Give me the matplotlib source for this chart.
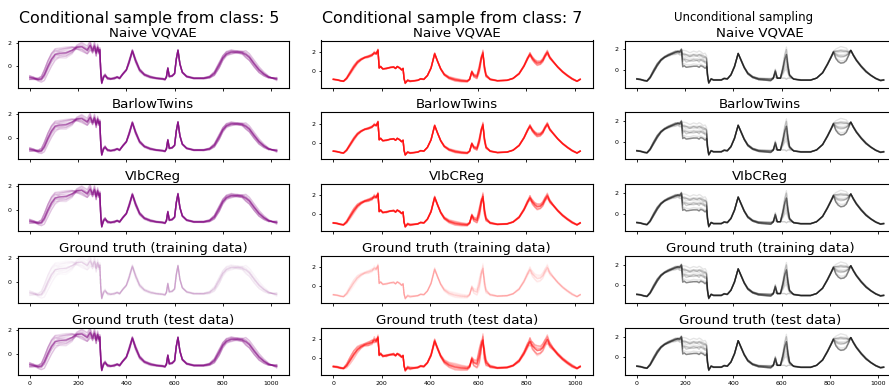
import numpy as np
import matplotlib
matplotlib.use('Agg')
import matplotlib.pyplot as plt

# ---- data ----------------------------------------------------------------
# class 5 template (key points of the waveform)
c5_x = [0, 15, 35, 48, 60, 75, 90, 105, 125, 150,
        175, 195, 215, 238, 250, 260, 268, 275, 281, 286,
        290, 294, 298, 305, 312, 322, 335, 350, 362, 372,
        385, 400, 412, 425, 438, 455, 475, 500, 525, 550,
        560, 566, 572, 578, 590, 600, 607, 614, 622, 632,
        650, 680, 720, 745, 765, 785, 800, 815, 835, 860,
        880, 895, 910, 930, 950, 970, 990, 1010, 1023]
c5_y = [-0.95, -1.0, -1.1, -1.05, -0.7, 0.0, 0.6, 1.0, 1.1, 1.15,
        1.35, 1.6, 1.65, 1.35, 1.75, 1.3, 1.7, 1.1, 1.6, 1.2,
        1.4, -0.5, -1.4, -0.9, -0.75, -1.0, -1.05, -1.0, -0.9, -1.0,
        -0.65, -0.3, 0.4, 1.3, 0.5, -0.3, -0.7, -0.9, -1.0, -1.05,
        -1.1, -0.9, -0.15, -0.85, -0.8, -0.6, 0.6, 1.35, 0.2, -0.5,
        -0.85, -1.0, -1.0, -0.9, -0.6, 0.1, 0.7, 1.05, 1.2, 1.2,
        1.15, 1.0, 0.75, 0.2, -0.3, -0.65, -0.9, -1.0, -1.05]
c5_spread_a = [0.1, 0.1, 0.05, 0.1, 0.25, 0.3, 0.35, 0.35, 0.4, 0.45,
               0.3, -0.1, -0.3, -0.2, -0.35, 0.1, -0.3, 0.2, -0.2, 0.1,
               -0.1, 0.1, 0.05, 0.1, 0.05, 0.05, 0.05, 0.05, 0.05, 0.05,
               0.05, 0.05, 0.1, 0.1, 0.1, 0.05, 0.05, 0.05, 0.05, 0.05,
               0.05, 0.05, 0.05, 0.05, 0.05, 0.05, 0.05, 0.05, 0.05, 0.05,
               0.05, 0.05, 0.05, 0.05, 0.1, 0.15, 0.2, 0.2, 0.15, 0.1,
               0.05, -0.1, -0.15, -0.15, -0.15, -0.1, -0.05, 0.05, 0.05]
c5_spread_b = [0.2, 0.1, -0.1, -0.2, -0.3, -0.35, -0.3, -0.2, 0.1, 0.2,
               0.2, 0.1, 0.1, 0.2, 0.1, 0.25, 0.1, 0.3, 0.1, 0.2,
               0.1, 0.0, 0.0, 0.0, -0.1, 0.1, 0.05, -0.05, 0.05, 0.05,
               0.0, 0.0, -0.1, 0.0, -0.1, -0.1, -0.05, -0.05, 0.0, 0.0,
               0.0, 0.0, 0.0, 0.0, 0.0, 0.0, 0.0, 0.0, 0.0, 0.0,
               0.05, 0.0, 0.05, 0.1, 0.2, 0.3, 0.2, 0.1, -0.05, 0.1,
               0.15, 0.25, 0.2, 0.2, 0.15, 0.1, 0.05, 0.0, -0.1]

# class 7 template
c7_x = [0, 15, 30, 42, 55, 70, 85, 100, 115, 130,
        145, 160, 170, 178, 185, 190, 196, 205, 220, 235,
        250, 258, 265, 275, 283, 289, 293, 298, 308, 318,
        335, 350, 362, 375, 390, 405, 420, 432, 445, 460,
        480, 505, 530, 555, 565, 574, 582, 595, 605, 613,
        620, 626, 633, 650, 680, 720, 745, 770, 790, 805,
        815, 825, 835, 845, 858, 868, 878, 887, 897, 910,
        930, 950, 970, 990, 1010, 1023]
c7_y = [-0.9, -0.95, -1.05, -1.1, -0.8, -0.2, 0.4, 0.9, 1.2, 1.4,
        1.5, 1.65, 1.9, 1.8, 2.2, 0.3, 0.45, 0.2, 0.25, 0.35,
        0.4, 0.25, 0.45, 0.3, 0.1, 0.25, -0.8, -1.3, -1.0, -1.1,
        -1.05, -1.0, -0.85, -0.9, -0.5, 0.3, 1.8, 1.0, 0.2, -0.4,
        -0.75, -0.95, -1.05, -1.1, -0.9, -0.1, -0.5, -0.65, 0.2, 1.3,
        1.9, 0.4, -0.5, -0.9, -1.05, -1.0, -0.8, -0.3, 0.5, 1.3,
        1.75, 1.3, 1.0, 0.8, 0.85, 1.1, 1.6, 1.95, 1.4, 1.0,
        0.4, -0.1, -0.5, -0.85, -1.1, -0.9]
c7_spread_a = [0.05, 0.05, 0.05, 0.05, 0.1, 0.15, 0.2, 0.2, 0.15, 0.1,
               0.1, 0.2, -0.1, 0.15, -0.1, 0.05, 0.05, 0.05, 0.05, 0.05,
               0.05, 0.05, 0.05, 0.05, 0.05, 0.05, 0.05, 0.05, 0.1, 0.1,
               0.05, 0.05, 0.05, 0.05, 0.05, 0.1, 0.1, 0.1, 0.1, 0.15,
               0.2, 0.25, 0.2, 0.15, 0.1, 0.1, 0.2, 0.2, 0.2, 0.3,
               0.1, 0.2, 0.1, 0.1, 0.05, 0.05, 0.05, 0.1, 0.15, 0.2,
               0.2, 0.3, 0.2, 0.2, 0.2, 0.3, 0.3, 0.3, 0.2, 0.1,
               0.1, 0.1, 0.1, 0.1, 0.05, 0.05]
c7_spread_b = [0.0, 0.05, 0.05, 0.0, -0.1, -0.2, -0.2, -0.1, 0.0, 0.1,
               0.2, 0.1, 0.2, 0.1, 0.1, 0.0, 0.1, -0.05, 0.1, 0.0,
               0.1, 0.0, 0.0, 0.1, 0.0, 0.0, 0.0, 0.1, 0.0, 0.1,
               0.0, 0.0, 0.0, 0.0, 0.0, 0.0, -0.1, 0.1, 0.0, 0.0,
               0.0, 0.0, 0.0, 0.0, 0.0, 0.2, 0.3, 0.4, 0.8, 0.5,
               -0.5, 0.6, 0.3, 0.0, 0.0, 0.0, 0.0, 0.0, 0.1, 0.2,
               -0.2, 0.3, 0.4, 0.5, 0.4, 0.3, 0.2, -0.1, 0.2, 0.1,
               0.0, 0.0, 0.0, 0.0, 0.0, 0.0]

# unconditional samples (dark core + lighter alternatives), same key x as class 7
un_y = [-0.9, -0.95, -1.05, -1.1, -0.8, -0.2, 0.4, 0.9, 1.2, 1.4,
        1.55, 1.7, 1.8, 1.75, 2.0, 0.3, 0.4, 0.25, 0.3, 0.35,
        0.35, 0.25, 0.4, 0.3, 0.15, 0.3, -0.6, -1.3, -0.9, -1.0,
        -1.0, -1.0, -0.85, -0.9, -0.5, 0.3, 1.6, 0.9, 0.2, -0.4,
        -0.75, -0.95, -1.0, -1.05, -0.85, -0.1, -0.8, -0.8, 0.1, 1.0,
        1.5, 0.4, -0.5, -0.9, -1.0, -1.0, -0.8, -0.3, 0.5, 1.2,
        1.7, 1.1, 0.8, 0.65, 0.7, 0.9, 1.4, 1.9, 1.4, 0.9,
        0.3, -0.2, -0.55, -0.85, -1.05, -1.0]
un_spread_a = [0.05, 0.05, 0.05, 0.05, 0.1, 0.15, 0.15, 0.1, 0.1, 0.1,
               0.1, 0.1, 0.0, 0.05, -0.1, 1.2, 1.1, 1.2, 1.0, 1.1,
               1.0, 1.2, 1.0, 0.9, 1.1, 0.8, 0.2, 0.1, 0.05, 0.05,
               0.05, 0.05, 0.05, 0.05, 0.05, 0.1, 0.0, 0.1, 0.1, 0.1,
               0.1, 0.1, 0.1, 0.1, 0.05, 0.0, 0.0, 0.0, 0.0, 0.0,
               0.0, 0.0, 0.0, 0.0, 0.0, 0.0, 0.0, 0.05, 0.1, 0.1,
               0.1, 0.7, 1.0, 1.2, 1.1, 0.9, 0.3, 0.0, 0.1, 0.1,
               0.1, 0.1, 0.05, 0.05, 0.05, 0.05]
un_spread_b = [0.0, 0.0, 0.0, 0.0, 0.1, 0.2, 0.2, 0.1, 0.0, -0.1,
               -0.1, -0.2, -0.2, -0.3, -0.5, 0.5, 0.6, 0.5, 0.6, 0.5,
               0.6, 0.5, 0.6, 0.7, 0.5, 0.4, 0.0, 0.0, 0.0, 0.0,
               0.0, 0.0, 0.0, 0.0, 0.0, 0.0, 0.0, 0.0, 0.0, 0.1,
               0.05, 0.1, 0.15, 0.2, 0.05, -0.6, 0.0, 0.0, -0.9, -1.8,
               -2.4, -1.2, -0.3, 0.05, 0.05, 0.05, 0.0, 0.0, 0.0, 0.0,
               0.0, 0.3, 0.5, 0.6, 0.6, 0.5, 0.2, 0.0, 0.0, 0.0,
               0.0, 0.0, 0.0, 0.0, 0.0, 0.0]

# per-sample weights of the two spread patterns
cond_a = [0, 0, 0, 0, 0, 0.5, -0.5, 1.0, -1.0, 0.3, -0.7, 0.8,
          -0.3, 0.6, -0.9, 0.2, 1.2, -0.2]
cond_b = [0, 0, 0.05, -0.05, 0, 0.6, -0.4, -0.5, 0.8, -1.0, 1.0, 0.2,
          0.4, -0.8, -0.2, 0.7, -0.3, -0.6]
uncond_a = [0, 0, 0, 0, 0, 0, 0.6, 0.9, 1.1, 0.4, 0.2, 1.0, 0.0,
            0.75, 0.5, 1.25, 0.3, 0.85]
uncond_b = [0, 0, 0, 0.1, 0, 0, 0.0, 0.3, -0.2, 1.0, 0.6, 0.0, 1.0,
            -0.3, 0.4, 0.2, -0.2, 0.5]

row_titles = ['Naive VQVAE', 'BarlowTwins', 'VIbCReg',
              'Ground truth (training data)', 'Ground truth (test data)']
col_titles = ['Conditional sample from class: 5',
              'Conditional sample from class: 7',
              'Unconditional sampling']
xticks = [0, 200, 400, 600, 800, 1000]

columns = [
    dict(x=c5_x, y=c5_y, sa=c5_spread_a, sb=c5_spread_b, ca=cond_a, cb=cond_b,
         color='purple', scale=[1.0, 0.9, 1.0, 1.2, 1.1],
         alpha=[0.13, 0.13, 0.13, 0.025, 0.13], ylim=(-1.77, 2.17)),
    dict(x=c7_x, y=c7_y, sa=c7_spread_a, sb=c7_spread_b, ca=cond_a, cb=cond_b,
         color='red', scale=[0.6, 0.5, 0.8, 1.0, 1.3],
         alpha=[0.13, 0.13, 0.13, 0.025, 0.13], ylim=(-1.76, 3.2)),
    dict(x=c7_x, y=un_y, sa=un_spread_a, sb=un_spread_b, ca=uncond_a, cb=uncond_b,
         color='black', scale=[1.0, 1.0, 1.0, 1.0, 1.0],
         alpha=[0.1, 0.1, 0.1, 0.1, 0.1], ylim=(-1.71, 2.86)),
]

# ---- layout (pixels of the 889x388 picture) ------------------------------
W, H = 889, 388
col_left = [17.5, 321, 624.5]
ax_w = 271.5
row_top = [40.5, 112.3, 184.1, 255.9, 327.7]
ax_h = 47

fig = plt.figure(figsize=(W / 100, H / 100), dpi=100)

for c, col in enumerate(columns):
    x = np.array(col['x'], dtype=float)
    base = np.array(col['y'])
    sa = np.array(col['sa'])
    sb = np.array(col['sb'])
    for r in range(5):
        ax = fig.add_axes([col_left[c] / W, 1 - (row_top[r] + ax_h) / H,
                           ax_w / W, ax_h / H])
        for a, b in zip(col['ca'], col['cb']):
            y = base + col['scale'][r] * (a * sa + b * sb)
            ax.plot(x, y, color=col['color'], alpha=col['alpha'][r], lw=1.0)
        ax.set_ylim(*col['ylim'])
        ax.set_yticks([0, 2])
        ax.set_xticks(xticks)
        ax.tick_params(labelsize=4.5, length=1.8, width=0.6, pad=2.5)
        if r < 4:
            ax.tick_params(labelbottom=False)
        ax.set_title(row_titles[r], fontsize=9.6, pad=2.8)

# column headings
fig.text(149 / W, 1 - 22.7 / H, col_titles[0], fontsize=11.4, ha='center', va='baseline')
fig.text(452 / W, 1 - 22.7 / H, col_titles[1], fontsize=11.4, ha='center', va='baseline')
fig.text(744 / W, 1 - 21.5 / H, col_titles[2], fontsize=8.5, ha='center', va='baseline')

fig.savefig('out.png', dpi=100)
